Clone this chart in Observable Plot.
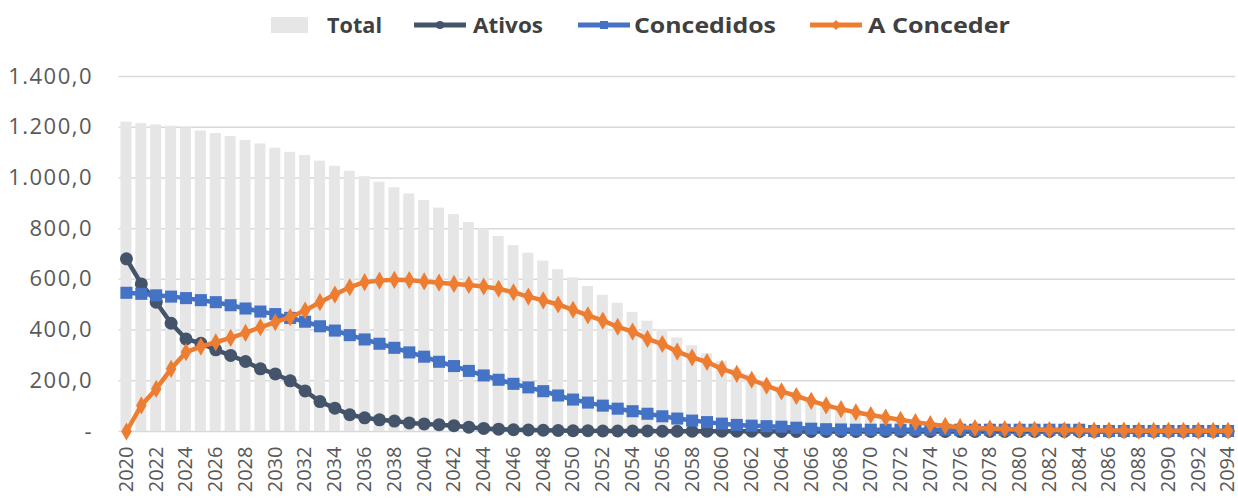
<!DOCTYPE html>
<html>
<head>
<meta charset="utf-8">
<script src="https://cdn.jsdelivr.net/npm/d3@7"></script>
<script src="https://cdn.jsdelivr.net/npm/@observablehq/plot@0.6"></script>
<style>
  html, body { margin: 0; padding: 0; background: #fff; }
  #wrap { width: 1238px; height: 499px; position: relative; overflow: hidden; }
  #legend { display: block; }
  #chart svg { display: block; overflow: visible; }
</style>
</head>
<body>
<div id="wrap">
  <svg id="legend" width="1238" height="50"></svg>
  <div id="chart"></div>
</div>
<script>
const years = [
  2020,2021,2022,2023,2024,2025,2026,2027,2028,2029,
  2030,2031,2032,2033,2034,2035,2036,2037,2038,2039,
  2040,2041,2042,2043,2044,2045,2046,2047,2048,2049,
  2050,2051,2052,2053,2054,2055,2056,2057,2058,2059,
  2060,2061,2062,2063,2064,2065,2066,2067,2068,2069,
  2070,2071,2072,2073,2074,2075,2076,2077,2078,2079,
  2080,2081,2082,2083,2084,2085,2086,2087,2088,2089,
  2090,2091,2092,2093,2094
];
const total = [
  1220,1214,1209,1204,1197,1185,1175,1163,1148,1134,
  1117,1101,1088,1066,1046,1026,1005,983,961,937,
  911,881,855,824,799,769,733,703,672,638,
  606,572,537,506,470,435,401,369,338,306,
  277,247,224,200,176,155,131,111,95,82,
  71,61,52,43,35,28,23,20,18,16,
  14,13,12,11,11,6,6,6,5,5,
  5,5,5,5,5
];
const ativos = [
  681,582,510,427,365,348,322,300,276,247,
  227,200,160,118,92,66,54,46,41,34,
  30,27,23,17,12,9,7,6,5,4,
  3,3,2,2,2,2,1,1,1,1,
  1,1,1,1,0,0,0,0,0,0,
  0,0,0,0,0,0,0,0,0,0,
  0,0,0,0,0,0,0,0,0,0,
  0,0,0,0,0
];
const concedidos = [
  547,543,537,532,526,518,510,498,485,473,
  463,448,433,415,398,380,363,346,330,312,
  295,275,258,239,221,204,188,174,159,142,
  126,114,102,90,80,70,60,51,43,37,
  31,26,23,21,19,15,11,9,8,7,
  7,7,7,7,7,7,7,7,7,7,
  7,7,7,7,7,2,2,2,2,2,
  2,2,2,2,2
];
const aConceder = [
  0,103,168,247,313,335,352,369,389,411,
  431,451,477,510,540,569,589,595,598,597,
  592,587,582,578,572,563,549,532,517,501,
  480,458,437,413,394,365,345,315,292,274,
  247,227,204,181,158,140,121,103,88,76,
  65,55,46,37,29,22,17,14,12,10,
  8,7,6,5,5,4,4,4,3,3,
  3,3,3,3,3
];
const yTicks = [0,200,400,600,800,1000,1200,1400];
const xTickYears = years.filter(y => y % 2 === 0);

const seriesNames = ["Total", "Ativos", "Concedidos", "A Conceder"];
const colors = { bar: "#E7E6E6", ativos: "#44546A", concedidos: "#4472C4", aConceder: "#ED7D31", grid: "#D9D9D9", text: "#595959", legendText: "#404040" };

const rows = years.map((year, i) => ({
  year, total: total[i], ativos: ativos[i], concedidos: concedidos[i], aConceder: aConceder[i]
}));

const ptBR = d3.formatLocale({ decimal: ",", thousands: ".", grouping: [3], currency: ["", ""] });
const fmt = ptBR.format(",.1f");
const yFormat = d => d === 0 ? "-" : fmt(d);

const chart = Plot.plot({
  width: 1238,
  height: 449,
  marginTop: 26,
  marginBottom: 68,
  marginLeft: 118.5,
  marginRight: 3,
  style: { fontFamily: "'Open Sans', sans-serif", background: "#fff", overflow: "visible" },
  x: { type: "band", domain: years, paddingInner: 0.26, paddingOuter: 0.13, label: null },
  y: { domain: [0, 1400], label: null },
  marks: [
    Plot.ruleY(yTicks, { stroke: colors.grid, strokeWidth: 1.5 }),
    Plot.barY(rows, { x: "year", y: "total", fill: colors.bar }),
    Plot.line(rows, { x: "year", y: "ativos", stroke: colors.ativos, strokeWidth: 4.5 }),
    Plot.dot(rows, { x: "year", y: "ativos", r: 6.5, fill: colors.ativos, symbol: "circle" }),
    Plot.line(rows, { x: "year", y: "concedidos", stroke: colors.concedidos, strokeWidth: 4.5 }),
    Plot.dot(rows, { x: "year", y: "concedidos", r: 6.8, fill: colors.concedidos, symbol: "square" }),
    Plot.line(rows, { x: "year", y: "aConceder", stroke: colors.aConceder, strokeWidth: 4.5 }),
    Plot.dot(rows, { x: "year", y: "aConceder", r: 5.5, fill: colors.aConceder, symbol: "diamond" }),
    Plot.axisX({ ticks: xTickYears, tickRotate: -90, tickSize: 0, tickPadding: 15, tickFormat: d => String(d), fontSize: 20, fill: colors.text, label: null }),
    Plot.axisY({ ticks: yTicks, tickSize: 0, tickPadding: 26, tickFormat: yFormat, fontSize: 22, fill: colors.text, label: null })
  ]
});
// widen y tick labels slightly (reference font is wider)
chart.querySelectorAll('g[aria-label="y-axis tick label"] text').forEach(t => {
  t.setAttribute("letter-spacing", "1.5");
});
document.getElementById("chart").appendChild(chart);

// Legend (SVG)
const legend = document.getElementById("legend");
const legendItems = [
  { name: seriesNames[0], kind: "bar", color: colors.bar, swLeft: 271, txLeft: 327, txWidth: 55 },
  { name: seriesNames[1], kind: "circle", color: colors.ativos, swLeft: 414, txLeft: 473, txWidth: 70 },
  { name: seriesNames[2], kind: "square", color: colors.concedidos, swLeft: 578, txLeft: 634, txWidth: 142 },
  { name: seriesNames[3], kind: "diamond", color: colors.aConceder, swLeft: 810, txLeft: 868, txWidth: 142 }
];
let html = "";
const cy = 25;
for (const it of legendItems) {
  if (it.kind === "bar") {
    html += `<rect x="${it.swLeft}" y="${cy - 8}" width="37" height="16" fill="${it.color}"/>`;
  } else {
    const mx = it.swLeft + 26;
    html += `<line x1="${it.swLeft}" y1="${cy}" x2="${it.swLeft + 52}" y2="${cy}" stroke="${it.color}" stroke-width="5"/>`;
    if (it.kind === "circle") html += `<circle cx="${mx}" cy="${cy}" r="4" fill="${it.color}"/>`;
    if (it.kind === "square") html += `<rect x="${mx - 4}" y="${cy - 4}" width="8" height="8" fill="${it.color}"/>`;
    if (it.kind === "diamond") html += `<path d="M${mx} ${cy - 5} L${mx + 5} ${cy} L${mx} ${cy + 5} L${mx - 5} ${cy} Z" fill="${it.color}"/>`;
  }
  html += `<text x="${it.txLeft}" y="${cy + 8}" textLength="${it.txWidth}" lengthAdjust="spacingAndGlyphs" font-family="'Open Sans', sans-serif" font-weight="700" font-size="22" fill="${colors.legendText}">${it.name}</text>`;
}
legend.innerHTML = html;
</script>
</body>
</html>
